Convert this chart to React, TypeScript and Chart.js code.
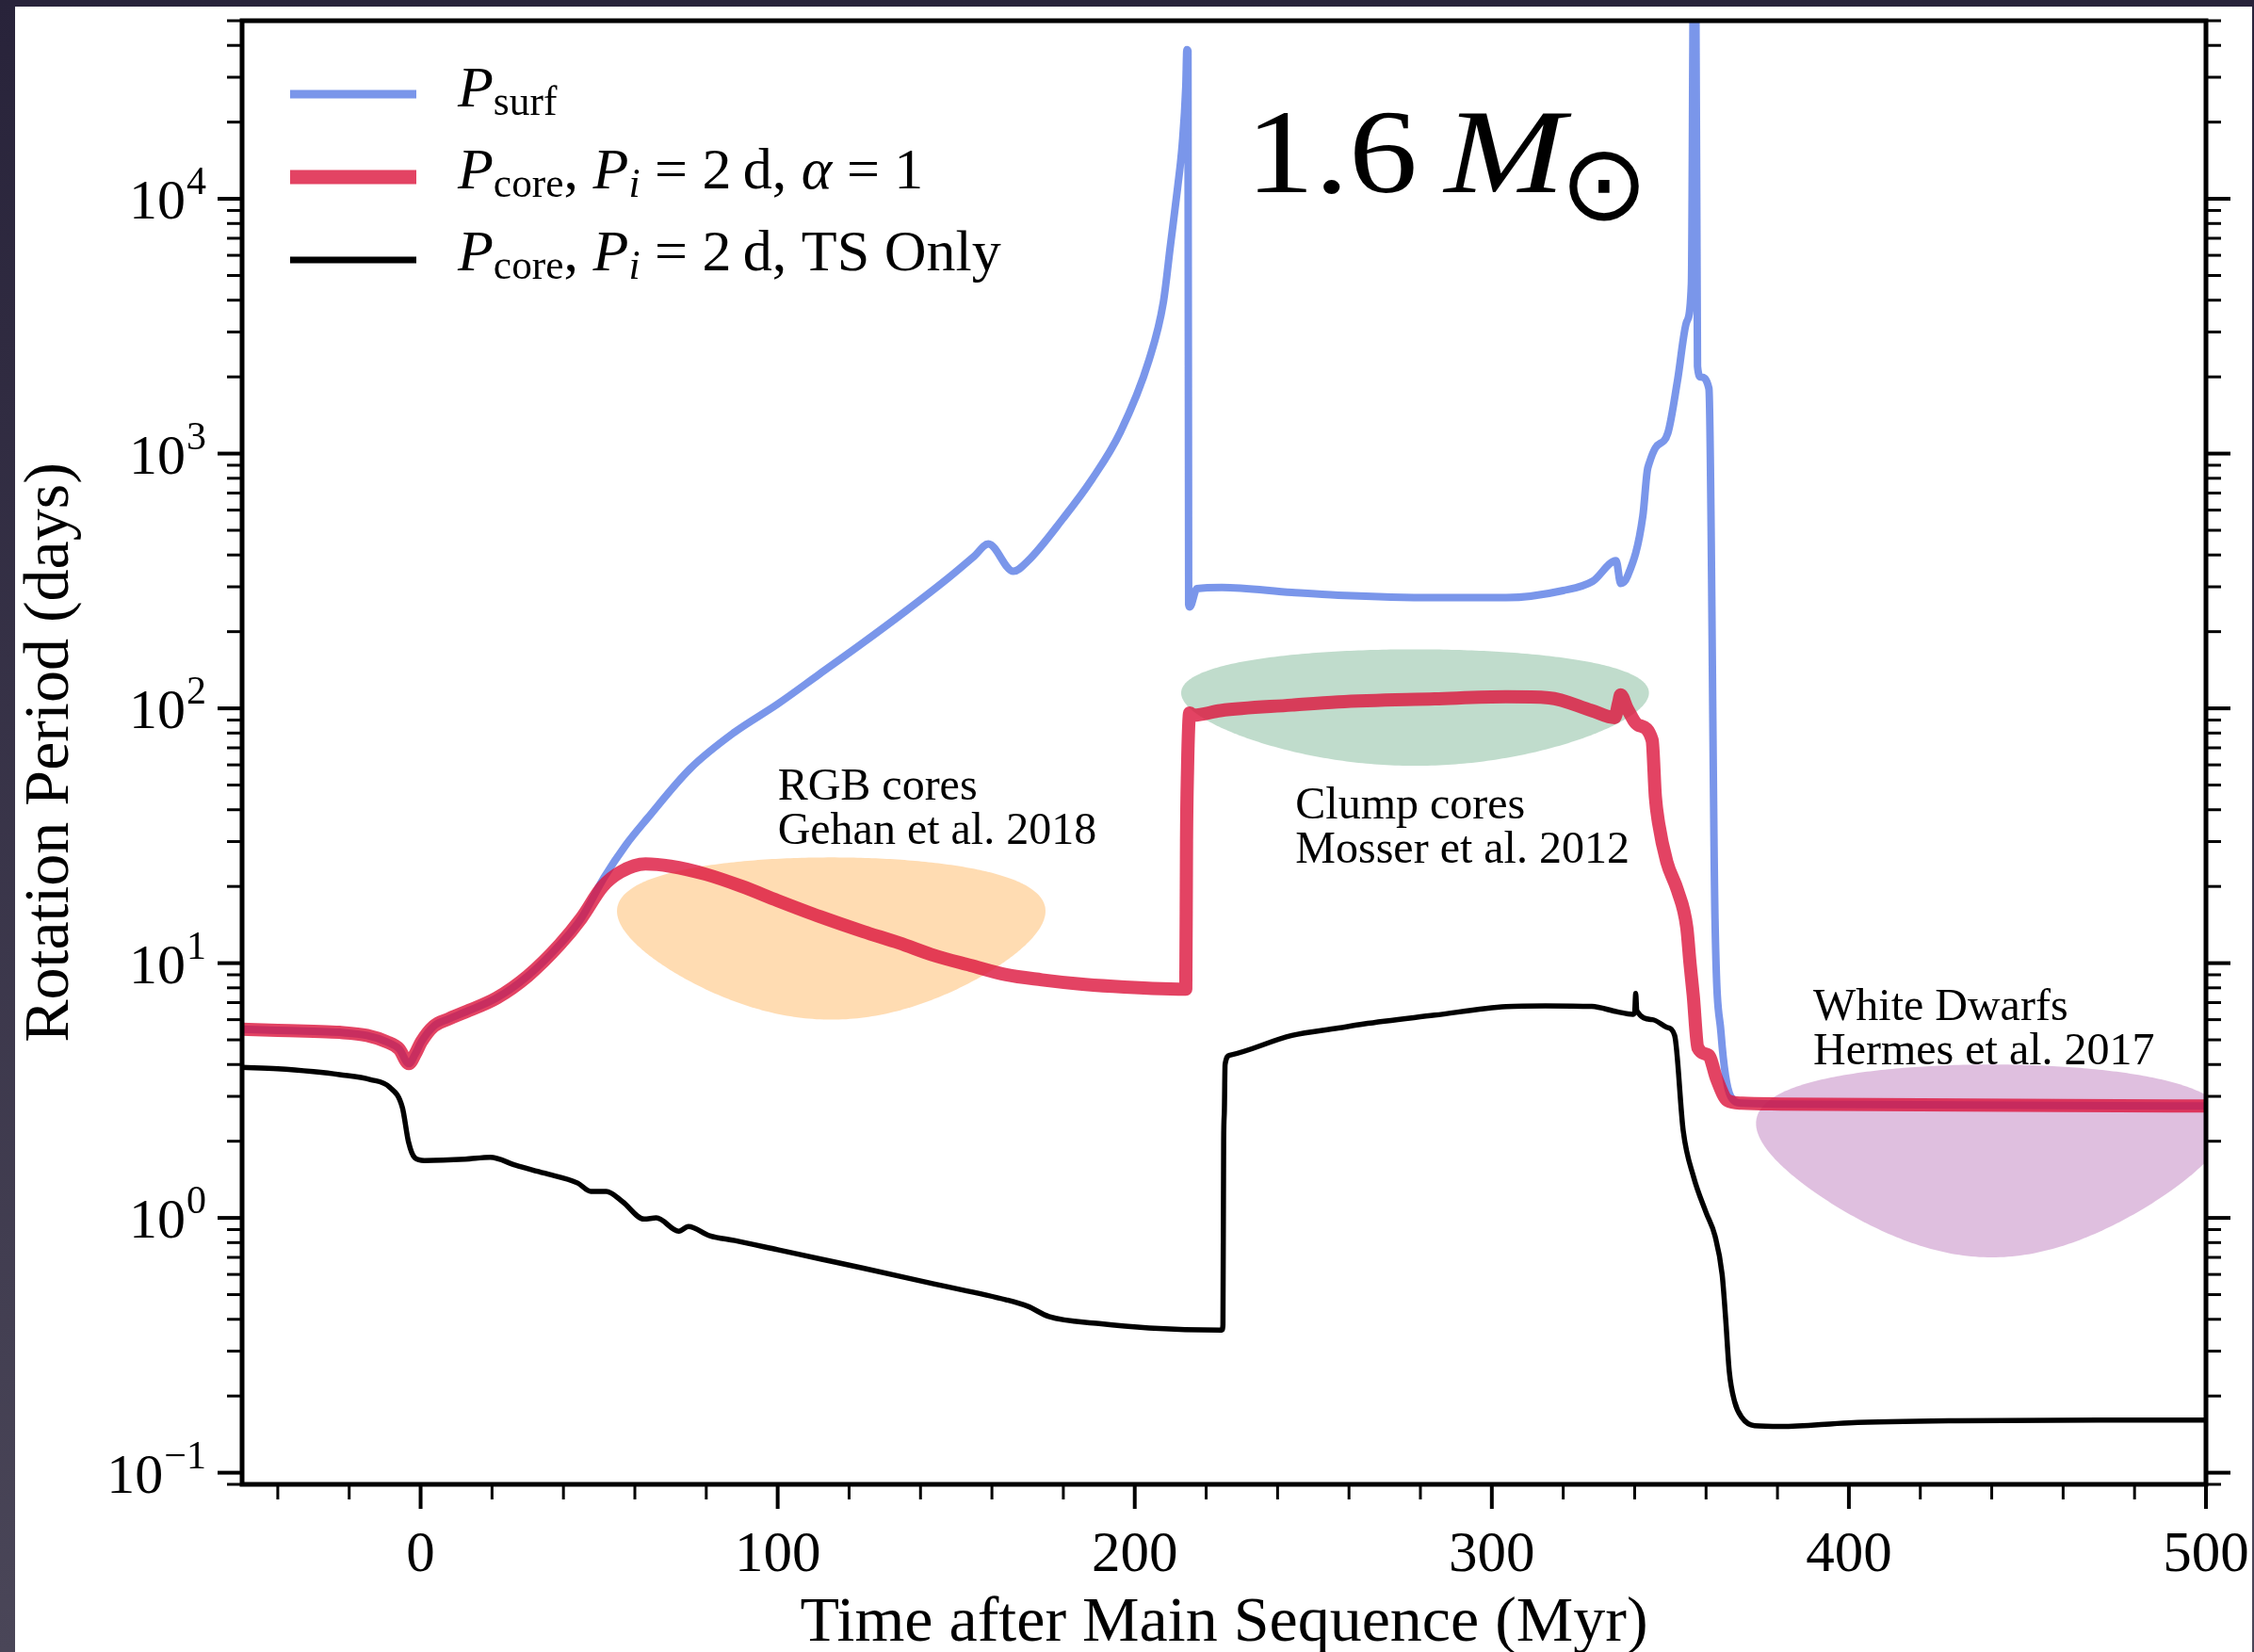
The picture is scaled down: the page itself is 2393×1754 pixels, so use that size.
import React, { useEffect, useRef } from 'react';
import { Chart, registerables } from 'chart.js';

Chart.register(...registerables);

const W = 2393;
const H = 1754;

// P_surf: surface rotation period (days) vs time after main sequence (Myr)
const surfTime = [-50, -40, -30, -22.7, -15, -9.5, -6, -3.3, -1.5, 0.2, 3.7, 8, 12.5, 21.3, 30, 38.9, 45, 51.4, 57.4, 63.5, 75.5, 87.6, 100, 111.6, 123.7, 135.7, 147.8, 155, 159, 166, 170, 180, 188, 196, 204, 208, 210, 212, 213.3, 214.3, 214.6, 214.9, 215.1, 215.4, 217.4, 224.4, 244, 257, 284, 304, 320, 328.2, 334.8, 336.1, 338, 342.3, 343.5, 344.1, 345.8, 349.3, 352, 354.6, 355.9, 356.5, 357.1, 357.6, 358.5, 360.8, 362.5, 364.2, 366.9, 370, 381, 420, 460, 500];
const surfPeriod = [5.5, 5.45, 5.4, 5.35, 5.2, 4.91, 4.6, 4.03, 4.4, 4.91, 5.66, 6.05, 6.43, 7.3, 8.9, 11.8, 15, 21.7, 29, 37, 58, 80, 104, 136, 180, 240, 325, 395, 442, 345, 378, 558, 792, 1218, 2330, 3917, 6580, 11060, 16300, 27500, 38500, 38000, 256, 250, 295, 298, 285, 278, 272, 272, 290, 315, 380, 309, 330, 570, 850, 918, 1052, 1205, 1934, 3300, 4650, 80000, 80000, 2200, 2000, 1800, 15, 5.3, 3.0, 2.82, 2.8, 2.78, 2.76, 2.75];

// P_core with P_i = 2 d, alpha = 1
const coreTime = [-50, -40, -30, -22.7, -15, -9.5, -6, -3.3, -1.5, 0.2, 3.7, 8, 12.5, 21.3, 30, 38.9, 45, 51, 56, 63, 70, 80, 90, 100, 112, 124, 134, 144, 154, 164, 174, 184, 194, 205, 214.3, 214.5, 214.8, 215.1, 215.4, 216.5, 224, 244, 257, 284, 304, 316, 328, 334.4, 335.5, 336.1, 337.9, 341, 344.9, 345.8, 346.7, 349, 352, 354.6, 355.5, 356.4, 357.7, 360.7, 363, 366, 370, 381, 420, 460, 500];
const corePeriod = [5.5, 5.45, 5.4, 5.35, 5.2, 4.91, 4.6, 4.03, 4.4, 4.91, 5.66, 6.05, 6.43, 7.3, 8.9, 11.8, 15, 20, 22.8, 24.5, 24, 22.3, 20, 17.6, 15.2, 13.3, 12, 10.7, 9.8, 9.0, 8.6, 8.3, 8.1, 7.95, 7.9, 30, 59, 85, 96, 94, 98, 103, 106, 109, 111, 110, 98, 92, 105, 113, 100, 86, 75, 45, 35.5, 25, 19.3, 13.8, 10, 7.5, 4.66, 4.35, 3.5, 2.89, 2.82, 2.8, 2.78, 2.76, 2.75];

// P_core with P_i = 2 d, Tayler-Spruit only
const tsTime = [-50, -40, -30, -22.7, -14, -8.7, -5.1, -3.4, -1.6, 1.1, 12.5, 19.5, 26.6, 34.5, 44, 47.7, 52, 56.5, 62.6, 66, 72.3, 75, 81, 88, 100, 112, 124, 144, 164, 170, 176, 190, 204, 224.4, 224.7, 224.9, 225.1, 225.3, 226.6, 244, 257, 264, 284, 304, 315, 328, 335, 339.5, 340, 340.3, 340.6, 345, 349, 351.2, 353.6, 356.5, 360, 362.5, 364.5, 365.5, 366.5, 368, 370, 373.6, 381, 400, 430, 470, 500];
const tsPeriod = [3.9, 3.85, 3.75, 3.65, 3.49, 3.26, 2.71, 1.99, 1.72, 1.68, 1.7, 1.73, 1.61, 1.5, 1.37, 1.27, 1.27, 1.16, 0.99, 1.0, 0.887, 0.925, 0.851, 0.815, 0.75, 0.69, 0.635, 0.55, 0.477, 0.45, 0.41, 0.385, 0.37, 0.363, 0.38, 2.0, 2.63, 4.0, 4.35, 5.2, 5.56, 5.77, 6.25, 6.75, 6.8, 6.76, 6.45, 6.3, 6.4, 7.6, 6.5, 6.0, 5.6, 5.2, 2.2, 1.45, 1.05, 0.85, 0.6, 0.4, 0.25, 0.19, 0.165, 0.153, 0.152, 0.157, 0.16, 0.161, 0.161];

// Observed ranges: centre and half-extent (Myr, days)
const regionNames = ['RGB cores', 'Clump cores', 'White Dwarfs'];
const regionRefs = ['Gehan et al. 2018', 'Mosser et al. 2012', 'Hermes et al. 2017'];
const regionCenterT = [115, 278.5, 440];
const regionCenterP = [16, 115, 2.35];
const regionHalfT = [60, 65.5, 66];
const regionHalfP = [10, 55.5, 1.65];

// Axis ticks
const xMajorTicks = [0, 100, 200, 300, 400, 500];
const xMajorLabels = ['0', '100', '200', '300', '400', '500'];
const xMinorTicks = [-40, -20, 20, 40, 60, 80, 120, 140, 160, 180, 220, 240, 260, 280, 320, 340, 360, 380, 420, 440, 460, 480];
const yMajorTicks = [0.1, 1, 10, 100, 1000, 10000];
const yMajorExponents = ['\u22121', '0', '1', '2', '3', '4'];
const yMinorTicks = [
  0.09,
  0.2, 0.3, 0.4, 0.5, 0.6, 0.7, 0.8, 0.9,
  2, 3, 4, 5, 6, 7, 8, 9,
  20, 30, 40, 50, 60, 70, 80, 90,
  200, 300, 400, 500, 600, 700, 800, 900,
  2000, 3000, 4000, 5000, 6000, 7000, 8000, 9000,
  20000, 30000, 40000, 50000,
];

const toPoints = (xs: number[], ys: number[]) => xs.map((x, i) => ({ x, y: ys[i] }));

const SERIF = '"Liberation Serif", "Times New Roman", serif';
const BLUE = 'rgba(65,105,225,0.7)';
const RED = 'rgba(220,20,60,0.8)';
const BLACK = '#000000';
const REGION_FILL = ['rgba(255,140,0,0.3)', 'rgba(46,139,87,0.3)', 'rgba(128,0,128,0.25)'];

// text anchors for the region captions (Myr, days of first baseline)
const captionAnchor = [
  { t: 100, p: 44 },
  { t: 245, p: 37 },
  { t: 390, p: 6 },
];

type Part = { t: string; it?: boolean; sub?: boolean };

function drawRich(ctx: CanvasRenderingContext2D, x: number, y: number, parts: Part[], size: number) {
  let cx = x;
  for (const p of parts) {
    const fs = p.sub ? size * 0.7 : size;
    ctx.font = `${p.it ? 'italic ' : ''}${fs}px ${SERIF}`;
    ctx.fillText(p.t, cx, y + (p.sub ? size * 0.15 : 0));
    cx += ctx.measureText(p.t).width;
  }
}

const figurePlugin = {
  id: 'figureDecor',
  beforeDraw(chart: any) {
    const ctx: CanvasRenderingContext2D = chart.ctx;
    ctx.save();
    const g = ctx.createLinearGradient(0, 0, 0, H);
    g.addColorStop(0, '#28233a');
    g.addColorStop(1, '#4a4658');
    ctx.fillStyle = g;
    ctx.fillRect(0, 0, W, H);
    ctx.fillStyle = '#ffffff';
    ctx.fillRect(16, 7, 2391 - 16, H - 7);
    ctx.restore();
  },
  beforeDatasetsDraw(chart: any) {
    const { ctx, chartArea: a, scales } = chart;
    const xs = scales.x;
    const ys = scales.y;
    ctx.save();
    ctx.beginPath();
    ctx.rect(a.left, a.top, a.right - a.left, a.bottom - a.top);
    ctx.clip();
    for (let i = 0; i < regionNames.length; i++) {
      ctx.beginPath();
      for (let k = 0; k <= 360; k++) {
        const th = (k * Math.PI) / 180;
        const px = xs.getPixelForValue(regionCenterT[i] + regionHalfT[i] * Math.cos(th));
        const py = ys.getPixelForValue(regionCenterP[i] + regionHalfP[i] * Math.sin(th));
        if (k === 0) ctx.moveTo(px, py);
        else ctx.lineTo(px, py);
      }
      ctx.closePath();
      ctx.fillStyle = REGION_FILL[i];
      ctx.fill();
    }
    ctx.restore();
  },
  afterDatasetsDraw(chart: any) {
    const { ctx, chartArea: a, scales } = chart;
    const xs = scales.x;
    const ys = scales.y;
    ctx.save();
    ctx.fillStyle = '#000';
    ctx.strokeStyle = '#000';

    // region captions
    ctx.textAlign = 'left';
    ctx.textBaseline = 'alphabetic';
    ctx.font = `48px ${SERIF}`;
    for (let i = 0; i < regionNames.length; i++) {
      const px = xs.getPixelForValue(captionAnchor[i].t);
      const py = ys.getPixelForValue(captionAnchor[i].p);
      ctx.fillText(regionNames[i], px, py);
      ctx.fillText(regionRefs[i], px, py + 47);
    }

    // frame
    ctx.lineWidth = 5;
    ctx.lineJoin = 'miter';
    ctx.strokeRect(a.left, a.top, a.right - a.left, a.bottom - a.top);

    // ticks
    ctx.lineCap = 'butt';
    const tick = (x1: number, y1: number, x2: number, y2: number, w: number) => {
      ctx.lineWidth = w;
      ctx.beginPath();
      ctx.moveTo(x1, y1);
      ctx.lineTo(x2, y2);
      ctx.stroke();
    };
    for (const v of xMajorTicks) {
      const px = xs.getPixelForValue(v);
      tick(px, a.bottom, px, a.bottom + 26, 4);
    }
    for (const v of xMinorTicks) {
      const px = xs.getPixelForValue(v);
      tick(px, a.bottom, px, a.bottom + 16, 3);
    }
    for (const v of yMajorTicks) {
      const py = ys.getPixelForValue(v);
      tick(a.left, py, a.left - 26, py, 4);
      tick(a.right, py, a.right + 26, py, 4);
    }
    for (const v of yMinorTicks) {
      const py = ys.getPixelForValue(v);
      tick(a.left, py, a.left - 16, py, 3);
      tick(a.right, py, a.right + 16, py, 3);
    }

    // x tick labels
    ctx.font = `61px ${SERIF}`;
    ctx.textAlign = 'center';
    xMajorTicks.forEach((v, i) => {
      ctx.fillText(xMajorLabels[i], xs.getPixelForValue(v), 1668);
    });

    // y tick labels: 10 with superscript exponent
    yMajorTicks.forEach((v, i) => {
      const py = ys.getPixelForValue(v);
      ctx.font = `42px ${SERIF}`;
      ctx.textAlign = 'right';
      const ew = ctx.measureText(yMajorExponents[i]).width;
      ctx.fillText(yMajorExponents[i], 219, py - 5);
      ctx.font = `60px ${SERIF}`;
      ctx.fillText('10', 219 - ew - 1, py + 21);
    });

    // axis titles
    ctx.font = `68px ${SERIF}`;
    ctx.textAlign = 'center';
    ctx.fillText('Time after Main Sequence (Myr)', (a.left + a.right) / 2, 1742);
    ctx.save();
    ctx.translate(72, (a.top + a.bottom) / 2);
    ctx.rotate(-Math.PI / 2);
    ctx.fillText('Rotation Period (days)', 0, 0);
    ctx.restore();

    // legend
    const rows = [
      { color: BLUE, width: 9, y: 100, base: 113, parts: [{ t: 'P', it: true }, { t: 'surf', sub: true }] as Part[] },
      {
        color: RED, width: 15, y: 188, base: 200,
        parts: [
          { t: 'P', it: true }, { t: 'core', sub: true }, { t: ', ' }, { t: 'P', it: true }, { t: 'i', it: true, sub: true },
          { t: ' = 2\u2009d, ' }, { t: '\u03b1', it: true }, { t: ' = 1' },
        ] as Part[],
      },
      {
        color: BLACK, width: 7, y: 276, base: 287,
        parts: [
          { t: 'P', it: true }, { t: 'core', sub: true }, { t: ', ' }, { t: 'P', it: true }, { t: 'i', it: true, sub: true },
          { t: ' = 2\u2009d, TS Only' },
        ] as Part[],
      },
    ];
    ctx.textAlign = 'left';
    for (const r of rows) {
      ctx.strokeStyle = r.color;
      ctx.lineWidth = r.width;
      ctx.beginPath();
      ctx.moveTo(308, r.y);
      ctx.lineTo(442, r.y);
      ctx.stroke();
      drawRich(ctx, 486, r.base, r.parts, 62);
    }

    // mass label: 1.6 M_sun
    ctx.fillStyle = '#000';
    ctx.font = `128px ${SERIF}`;
    const m1 = ctx.measureText('1.6');
    ctx.save();
    ctx.translate(1335, 204);
    ctx.scale(1.14, 1);
    ctx.fillText('1.6', m1.actualBoundingBoxLeft, 0);
    ctx.restore();
    ctx.font = `italic 128px ${SERIF}`;
    const m2 = ctx.measureText('M');
    ctx.save();
    ctx.translate(1531, 204);
    ctx.scale(1.2, 1);
    ctx.fillText('M', m2.actualBoundingBoxLeft, 0);
    ctx.restore();
    const sunFont = '"DejaVu Sans ExtraLight", "DejaVu Sans"';
    ctx.font = `100px ${sunFont}`;
    const m3 = ctx.measureText('\u2299');
    const gw = m3.actualBoundingBoxLeft + m3.actualBoundingBoxRight;
    const fs = (100 * 74) / gw;
    ctx.font = `${fs}px ${sunFont}`;
    const m4 = ctx.measureText('\u2299');
    const cxO = 1703;
    const cyO = 197;
    const left = cxO - (m4.actualBoundingBoxLeft + m4.actualBoundingBoxRight) / 2 + m4.actualBoundingBoxLeft;
    const base = cyO + (m4.actualBoundingBoxAscent - m4.actualBoundingBoxDescent) / 2;
    ctx.fillText('\u2299', left, base);

    ctx.restore();
  },
};

export default function App() {
  const ref = useRef<HTMLCanvasElement>(null);
  useEffect(() => {
    if (!ref.current) return;
    const chart = new Chart(ref.current, {
      type: 'line',
      data: {
        datasets: [
          {
            label: 'P_surf',
            data: toPoints(surfTime, surfPeriod),
            borderColor: BLUE,
            borderWidth: 8,
            order: 3,
          },
          {
            label: 'P_core, P_i = 2 d, alpha = 1',
            data: toPoints(coreTime, corePeriod),
            borderColor: RED,
            borderWidth: 14,
            order: 2,
          },
          {
            label: 'P_core, P_i = 2 d, TS Only',
            data: toPoints(tsTime, tsPeriod),
            borderColor: BLACK,
            borderWidth: 5.5,
            order: 1,
          },
        ].map((d) => ({
          ...d,
          pointRadius: 0,
          cubicInterpolationMode: 'monotone' as const,
          fill: false,
          clip: 0,
          borderJoinStyle: 'round' as const,
          borderCapStyle: 'butt' as const,
        })),
      },
      options: {
        responsive: false,
        animation: false,
        devicePixelRatio: 1,
        layout: { padding: { left: 257, top: 22, right: W - 2342, bottom: H - 1576 } },
        plugins: { legend: { display: false }, tooltip: { enabled: false } },
        events: [],
        scales: {
          x: { type: 'linear', min: -50, max: 500, display: false },
          y: { type: 'logarithmic', min: 0.09, max: 50000, display: false },
        },
      },
      plugins: [figurePlugin],
    });
    return () => chart.destroy();
  }, []);
  return (
    <div style={{ position: 'fixed', left: 0, top: 0, width: W, height: H }}>
      <canvas ref={ref} width={W} height={H} style={{ display: 'block', width: W, height: H }} />
    </div>
  );
}
